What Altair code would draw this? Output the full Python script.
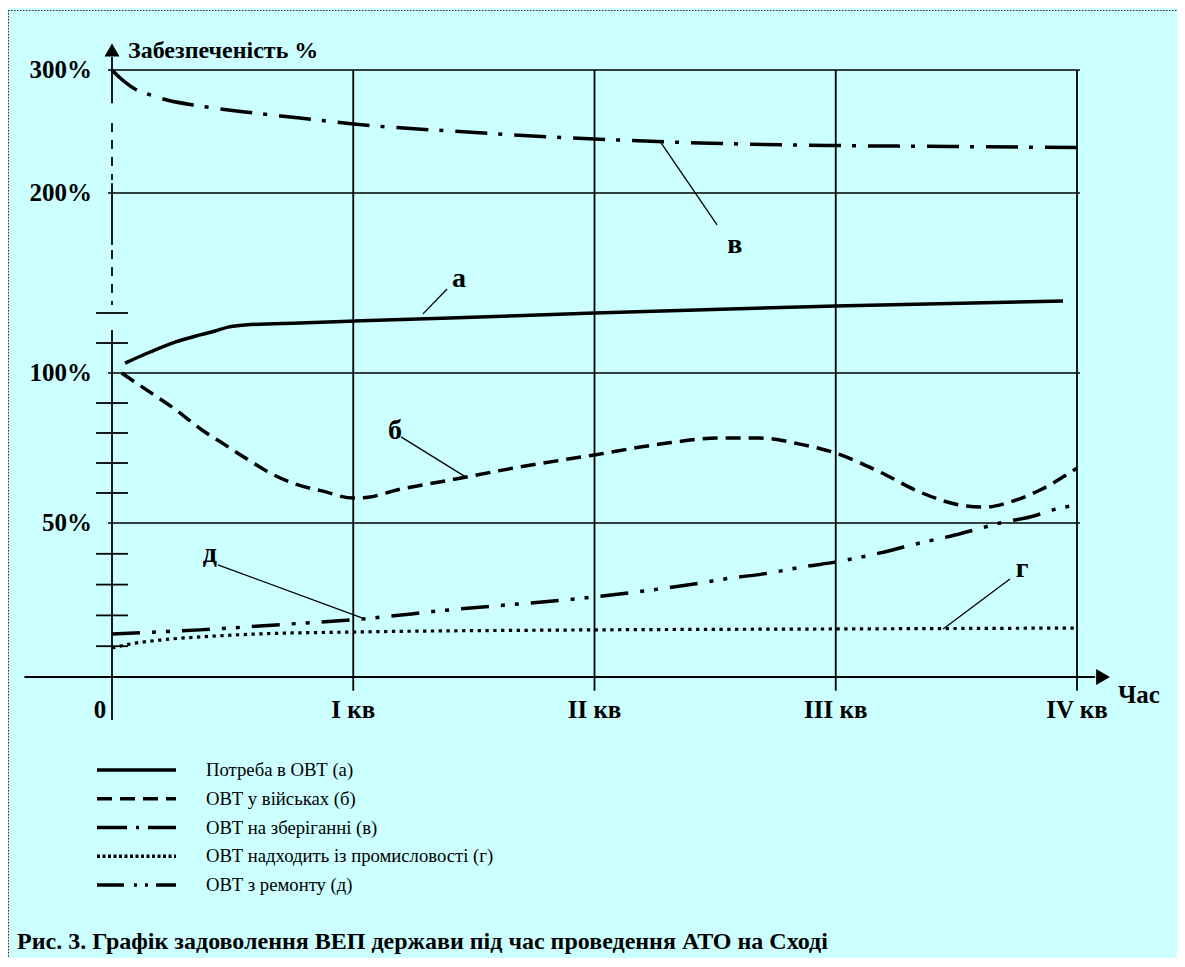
import altair as alt
import pandas as pd

FONT = "Liberation Serif, Times New Roman, serif"

# x: time in quarters (0 = start, 1..4 = I..IV кв); y: забезпеченість, %
a_x = [0.054, 0.158, 0.261, 0.365, 0.427, 0.481, 0.551, 0.779, 1.0, 1.401, 2.0, 3.0, 3.942]
a_y = [103.3, 107, 110.3, 112.7, 114, 115.3, 116, 116.7, 117.3, 118.3, 120, 124.7, 128]

b_x = [0.04, 0.137, 0.265, 0.373, 0.464, 0.560, 0.655, 0.759, 0.870, 1.0, 1.069, 1.181,
       1.401, 1.691, 2.0, 2.272, 2.520, 2.686, 2.852, 3.0, 3.183, 3.349, 3.515, 3.619,
       3.722, 3.847, 4.0]
b_y = [100, 94.7, 87.7, 81, 76.3, 71.3, 66.7, 63, 60.7, 58.3, 58.7, 61, 64.3, 68.7, 72.7,
       76.3, 78.3, 78.3, 76.3, 73.3, 67, 60.3, 56, 55.3, 57, 61, 68.3]

v_x = [0, 0.025, 0.054, 0.095, 0.158, 0.228, 0.365, 0.572, 0.779, 1.0, 1.401, 2.0, 2.437,
       3.0, 3.474, 4.0]
v_y = [300, 295.1, 290.2, 284.6, 279.7, 275.6, 270.7, 265.4, 261, 256.1, 250.4, 243.9,
       240.7, 238.6, 237.8, 237]

g_x = [0, 0.075, 0.199, 0.365, 0.613, 1.0, 2.0, 3.0, 4.0]
g_y = [9.4, 10.7, 12, 13, 14, 14.6, 15.3, 15.6, 15.9]

d_x = [0, 0.365, 0.696, 1.0, 1.401, 2.0, 2.437, 2.562, 2.694, 2.885, 2.997, 3.184, 3.316,
       3.494, 3.619, 3.681, 3.805, 3.93, 4.0]
d_y = [14, 15.3, 17, 18.6, 21.8, 26, 30.5, 32.1, 33.4, 36, 37.3, 40.3, 42.9, 46.1, 48.7,
       50, 52, 55, 56]

# curve letters and their leader lines
letters = ["а", "б", "в", "г", "д"]
letter_x = [1.438, 1.173, 2.582, 3.772, 0.406]
letter_y = [137.3, 78, 160, 32.5, 37.3]
lead_x1 = [1.289, 1.198, 2.276, 3.445, 0.439]
lead_y1 = [119.7, 78.7, 240.7, 15.6, 36.4]
lead_x2 = [1.389, 1.467, 2.508, 3.722, 1.036]
lead_y2 = [136, 65.3, 178.7, 31.8, 19.2]

# axes
y_grid = [300, 200, 100, 50]
y_labels = ["300%", "200%", "100%", "50%"]
y_ticks = [120, 110, 90, 80, 70, 60, 40, 30, 20, 10]
x_grid = [1, 2, 3, 4]
x_labels = ["I кв", "II кв", "III кв", "IV кв"]
axis_solid_from = [310.6, 208, 114.3]
axis_solid_to = [273, 165.3, -14]
axis_dash_from = [257, 162]
axis_dash_to = [210.6, 125.3]

legend_labels = ["Потреба в ОВТ (а)", "ОВТ у військах (б)", "ОВТ на зберіганні (в)",
                 "ОВТ надходить із промисловості (г)", "ОВТ з ремонту (д)"]
legend_rows = [0, 1, 2, 3, 4]
legend_dashes = [[1, 0], [15, 8], [30, 9, 3, 9], [3, 2.5], [27, 10, 3, 8, 3, 8]]

title_text = "Рис. 3. Графік задоволення ВЕП держави під час проведення АТО на Сході"

XS = alt.Scale(domain=[0, 4], range=[104, 1069], nice=False, zero=False)
YS = alt.Scale(domain=[0, 50, 100, 120, 200, 300], range=[667, 513, 363, 303, 183, 60],
               nice=False, zero=False)
LS = alt.Scale(domain=[0, 4], range=[760, 875], nice=False, zero=False)

H = 948


def X(f):
    return alt.X(f, type="quantitative", scale=XS, axis=None)


def Y(f):
    return alt.Y(f, type="quantitative", scale=YS, axis=None)


def XD(v):
    return alt.XDatum(v, type="quantitative", scale=XS, axis=None)


def YD(v):
    return alt.YDatum(v, type="quantitative", scale=YS, axis=None)


one = pd.DataFrame({"k": [0]})

layers = []

# horizontal grid
layers.append(alt.Chart(pd.DataFrame({"p": y_grid})).mark_rule(color="black", strokeWidth=1.6)
              .encode(x=XD(-0.0166), x2=alt.X2Datum(4.012), y=Y("p")))
# vertical grid
layers.append(alt.Chart(pd.DataFrame({"q": x_grid})).mark_rule(color="black", strokeWidth=1.8)
              .encode(x=X("q"), y=YD(300), y2=alt.Y2Datum(-4.5)))
# x axis
layers.append(alt.Chart(one).mark_rule(color="black", strokeWidth=1.8)
              .encode(x=XD(-0.363), x2=alt.X2Datum(4.075), y=YD(0)))
layers.append(alt.Chart(one).mark_point(shape="triangle-right", filled=True, size=256,
                                        color="black", opacity=1)
              .encode(x=XD(4.108), y=YD(0)))
# y axis
layers.append(alt.Chart(pd.DataFrame({"a": axis_solid_from, "b": axis_solid_to}))
              .mark_rule(color="black", strokeWidth=1.8)
              .encode(x=XD(0), y=Y("a"), y2=alt.Y2("b")))
layers.append(alt.Chart(pd.DataFrame({"a": axis_dash_from, "b": axis_dash_to}))
              .mark_rule(color="black", strokeWidth=1.8, strokeDash=[9, 8])
              .encode(x=XD(0), y=Y("a"), y2=alt.Y2("b")))
layers.append(alt.Chart(one).mark_point(shape="triangle-up", filled=True, size=225,
                                        color="black", opacity=1)
              .encode(x=XD(0), y=YD(316.3)))
layers.append(alt.Chart(pd.DataFrame({"p": y_ticks})).mark_rule(color="black", strokeWidth=1.8)
              .encode(x=XD(-0.066), x2=alt.X2Datum(0.066), y=Y("p")))


def curve(xs, ys, **kw):
    return (alt.Chart(pd.DataFrame({"x": xs, "y": ys}))
            .mark_line(color="black", interpolate="monotone", **kw)
            .encode(x=X("x"), y=Y("y"), order="x:Q"))


layers.append(curve(a_x, a_y, strokeWidth=3.5))
layers.append(curve(b_x, b_y, strokeWidth=3.5, strokeDash=[15, 8]))
layers.append(curve(v_x, v_y, strokeWidth=3.5, strokeDash=[32, 11, 4, 12]))
layers.append(curve(g_x, g_y, strokeWidth=3.2, strokeDash=[3.3, 4.5]))
layers.append(curve(d_x, d_y, strokeWidth=3.5, strokeDash=[28, 12, 4, 10, 4, 12]))

# leaders and letters
layers.append(alt.Chart(pd.DataFrame({"x1": lead_x1, "y1": lead_y1, "x2": lead_x2, "y2": lead_y2}))
              .mark_rule(color="black", strokeWidth=1.3)
              .encode(x=X("x1"), y=Y("y1"), x2=alt.X2("x2"), y2=alt.Y2("y2")))
layers.append(alt.Chart(pd.DataFrame({"t": letters, "x": letter_x, "y": letter_y}))
              .mark_text(font=FONT, fontSize=28, fontWeight="bold", baseline="alphabetic",
                         align="center", color="black")
              .encode(x=X("x"), y=Y("y"), text="t:N"))

# axis labels
layers.append(alt.Chart(pd.DataFrame({"p": y_grid, "t": y_labels}))
              .mark_text(font=FONT, fontSize=25, fontWeight="bold", align="right",
                         baseline="middle", color="black")
              .encode(x=alt.value(84), y=Y("p"), text="t:N"))
layers.append(alt.Chart(pd.DataFrame({"q": x_grid, "t": x_labels}))
              .mark_text(font=FONT, fontSize=25, fontWeight="bold", align="center",
                         baseline="alphabetic", color="black")
              .encode(x=X("q"), y=alt.value(708), text="t:N"))
layers.append(alt.Chart(one).mark_text(font=FONT, fontSize=25, fontWeight="bold",
                                       align="center", baseline="alphabetic", dx=-12,
                                       color="black", text="0")
              .encode(x=XD(0), y=alt.value(708)))
layers.append(alt.Chart(one).mark_text(font=FONT, fontSize=25, fontWeight="bold",
                                       align="left", baseline="alphabetic",
                                       color="black", text="Час")
              .encode(x=alt.value(1110), y=alt.value(693)))
layers.append(alt.Chart(one).mark_text(font=FONT, fontSize=24, fontWeight="bold",
                                       align="left", baseline="alphabetic",
                                       color="black", text="Забезпеченість %")
              .encode(x=alt.value(120), y=alt.value(48)))

main = alt.layer(*layers)

leg_df = pd.DataFrame({"row": legend_rows, "label": legend_labels})
leg_lines = alt.Chart(leg_df).mark_rule(color="black", strokeWidth=3.3).encode(
    y=alt.Y("row:Q", scale=LS, axis=None),
    x=alt.value(89), x2=alt.value(168),
    strokeDash=alt.StrokeDash("label:N", scale=alt.Scale(domain=legend_labels, range=legend_dashes),
                              legend=None),
)
leg_text = alt.Chart(leg_df).mark_text(font=FONT, fontSize=18.7, align="left", baseline="middle",
                                       color="black").encode(
    y=alt.Y("row:Q", scale=LS, axis=None), x=alt.value(198), text="label:N")
legend = alt.layer(leg_lines, leg_text)

border_top = alt.Chart(one).mark_rule(color="#333", strokeWidth=1, strokeDash=[1.5, 1.5]).encode(
    x=alt.value(0), x2=alt.value(1169), y=alt.value(0.5))
border_left = alt.Chart(one).mark_rule(color="#333", strokeWidth=1, strokeDash=[1.5, 1.5]).encode(
    x=alt.value(0.5), y=alt.value(0), y2=alt.value(H))
title = alt.Chart(one).mark_text(font=FONT, fontSize=24, fontWeight="bold", align="left",
                                 baseline="alphabetic", color="black", text=title_text).encode(
    x=alt.value(9), y=alt.value(939))

chart = (alt.layer(border_top, border_left, main, legend, title)
         .resolve_scale(x="independent", y="independent", strokeDash="independent")
         .properties(width=1169, height=H,
                     padding={"left": 0, "top": 2, "right": 0, "bottom": 0},
                     autosize=alt.AutoSizeParams(type="none"))
         .configure_view(fill="#ccffff", stroke="transparent")
         .configure(background="#ccffff", font=FONT))

chart.save("out.html", embed_options={"renderer": "svg", "actions": False})
